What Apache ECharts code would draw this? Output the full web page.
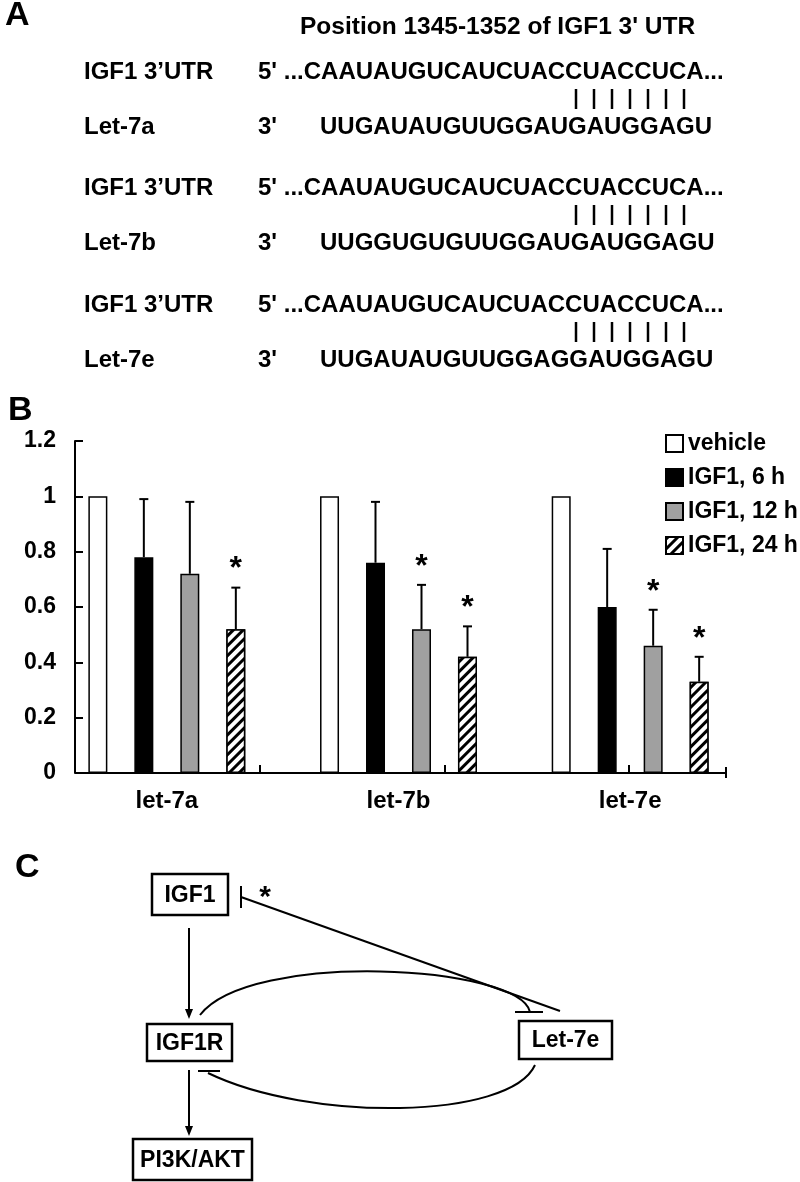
<!DOCTYPE html>
<html>
<head>
<meta charset="utf-8">
<script src="https://cdn.jsdelivr.net/npm/echarts@6/dist/echarts.min.js"></script>
<style>
  html, body { margin: 0; padding: 0; background: #fff; }
  #main { width: 800px; height: 1182px; }
</style>
</head>
<body>
<div id="main"></div>
<script>
// panel B data (relative expression)
var categories = ['let-7a', 'let-7b', 'let-7e'];
var seriesNames = ['vehicle', 'IGF1, 6 h', 'IGF1, 12 h', 'IGF1, 24 h'];
var vehicle = [1, 1, 1];
var igf6h = [0.78, 0.76, 0.60];
var igf12h = [0.72, 0.52, 0.46];
var igf24h = [0.52, 0.42, 0.33];
// upper error (SD)
var err6h = [0.21, 0.22, 0.21];
var err12h = [0.26, 0.16, 0.13];
var err24h = [0.15, 0.11, 0.09];
// significance stars
var sig6h = [0, 0, 0];
var sig12h = [0, 1, 1];
var sig24h = [1, 1, 1];
var yTicks = [0, 0.2, 0.4, 0.6, 0.8, 1, 1.2];

// panel A sequences
var utrLabel = 'IGF1 3\u2019UTR';
var utrSeq = "5' ...CAAUAUGUCAUCUACCUACCUCA...";
var mirNames = ['Let-7a', 'Let-7b', 'Let-7e'];
var mirSeqs = ['UUGAUAUGUUGGAUGAUGGAGU', 'UUGGUGUGUUGGAUGAUGGAGU', 'UUGAUAUGUUGGAGGAUGGAGU'];

var FONT = '"Liberation Sans", Arial, Helvetica, sans-serif';
var BAR_W = 19;
var BAR_GAP = 27;

var myChart = echarts.init(document.getElementById('main'), null, { renderer: 'canvas' });

function txt(x, y, s, size, align) {
  return {
    type: 'text', x: x, y: y, silent: true,
    style: {
      text: s, fontSize: size, fontWeight: 'bold', fontFamily: FONT,
      fill: '#000', align: align || 'left', verticalAlign: 'middle'
    }
  };
}
function seg(x1, y1, x2, y2, w) {
  return { type: 'line', silent: true, shape: { x1: x1, y1: y1, x2: x2, y2: y2 }, style: { stroke: '#000', lineWidth: w || 2 } };
}
function box(x, y, w, h, label) {
  return [
    { type: 'rect', silent: true, shape: { x: x, y: y, width: w, height: h }, style: { fill: '#fff', stroke: '#000', lineWidth: 2.5 } },
    txt(x + w / 2, y + h / 2 + 1, label, 23, 'center')
  ];
}
function arrowDown(x, y1, y2) {
  return [
    seg(x, y1, x, y2 - 8, 2),
    { type: 'polygon', silent: true, shape: { points: [[x - 4, y2 - 10], [x + 4, y2 - 10], [x, y2]] }, style: { fill: '#000' } }
  ];
}
function curve(x1, y1, c1x, c1y, c2x, c2y, x2, y2) {
  return {
    type: 'bezierCurve', silent: true,
    shape: { x1: x1, y1: y1, cpx1: c1x, cpy1: c1y, cpx2: c2x, cpy2: c2y, x2: x2, y2: y2 },
    style: { stroke: '#000', lineWidth: 2, fill: null }
  };
}

var elements = [];

// ---- panel A ----
elements.push(txt(5, 16, 'A', 34));
elements.push(txt(300, 27, "Position 1345-1352 of IGF1 3' UTR", 24.5));
var pipeX = [576, 594, 612, 630, 648, 666, 684];
var blockTop = [72, 188, 305];
for (var b = 0; b < 3; b++) {
  var yu = blockTop[b], yl = yu + 55;
  elements.push(txt(84, yu, utrLabel, 24));
  elements.push(txt(258, yu, utrSeq, 24));
  elements.push(txt(84, yl, mirNames[b], 24));
  elements.push(txt(258, yl, "3'", 24));
  elements.push(txt(320, yl, mirSeqs[b], 24));
  pipeX.forEach(function (px) {
    elements.push(seg(px, yu + 17, px, yl - 18, 2.5));
  });
}

// ---- panel B decorations ----
elements.push(txt(8, 411, 'B', 34));
elements.push(seg(75, 773, 726, 773, 2));
[260, 445, 629].forEach(function (tx) { elements.push(seg(tx, 773, tx, 765, 2)); });
elements.push(seg(726, 767, 726, 778, 2));

// ---- panel C ----
elements.push(txt(15, 868, 'C', 34));
elements = elements.concat(box(152, 874, 76, 41, 'IGF1'));
elements = elements.concat(box(147, 1024, 85, 37, 'IGF1R'));
elements = elements.concat(box(133, 1139, 119, 41, 'PI3K/AKT'));
elements = elements.concat(box(519, 1021, 93, 38, 'Let-7e'));
elements = elements.concat(arrowDown(189, 928, 1019));
elements = elements.concat(arrowDown(189, 1070, 1136));
elements.push(seg(241, 886, 241, 908, 2));
elements.push(seg(241, 897, 560, 1011, 2));
elements.push(txt(265, 898, '*', 30, 'center'));
elements.push(curve(200, 1015, 250, 950, 520, 965, 530, 1012));
elements.push(seg(515, 1012, 543, 1012, 2));
elements.push(curve(535, 1065, 510, 1120, 309, 1122, 208, 1073));
elements.push(seg(198, 1071, 220, 1071, 2));

// error bar data: [category, series index, mean, mean + error, significant]
var errData = [];
[[igf6h, err6h, sig6h], [igf12h, err12h, sig12h], [igf24h, err24h, sig24h]].forEach(function (g, k) {
  categories.forEach(function (c, i) {
    errData.push([i, k + 1, g[0][i], +(g[0][i] + g[1][i]).toFixed(2), g[2][i]]);
  });
});

function renderErr(params, api) {
  var cat = api.value(0), s = api.value(1);
  var base = api.coord([cat, api.value(2)]);
  var top = api.coord([cat, api.value(3)]);
  var x = base[0] + (s - 1.5) * (BAR_W + BAR_GAP);
  var children = [
    { type: 'line', shape: { x1: x, y1: base[1], x2: x, y2: top[1] }, style: { stroke: '#000', lineWidth: 2 } },
    { type: 'line', shape: { x1: x - 4.5, y1: top[1], x2: x + 4.5, y2: top[1] }, style: { stroke: '#000', lineWidth: 2 } }
  ];
  if (api.value(4)) {
    children.push({
      type: 'text', x: x, y: top[1] - 18,
      style: { text: '*', fontSize: 32, fontWeight: 'bold', fontFamily: FONT, fill: '#000', align: 'center', verticalAlign: 'middle' }
    });
  }
  return { type: 'group', children: children };
}

var barBase = {
  type: 'bar',
  barWidth: BAR_W,
  barGap: (BAR_GAP / BAR_W * 100).toFixed(0) + '%',
  silent: true
};

var option = {
  animation: false,
  backgroundColor: '#fff',
  textStyle: { fontFamily: FONT },
  grid: { left: 51, right: 54, top: 441, bottom: 409 },
  legend: {
    data: seriesNames,
    orient: 'vertical',
    left: 665,
    top: 432,
    itemWidth: 17,
    itemHeight: 17,
    itemGap: 11,
    icon: 'rect',
    padding: 0,
    selectedMode: false,
    textStyle: { fontSize: 23, fontWeight: 'bold', color: '#000', fontFamily: FONT }
  },
  xAxis: {
    type: 'category',
    data: categories,
    axisLine: { show: false },
    axisTick: { show: false },
    axisLabel: { color: '#000', fontSize: 24, fontWeight: 'bold', fontFamily: FONT, margin: 16 }
  },
  yAxis: {
    type: 'value',
    min: yTicks[0],
    max: yTicks[yTicks.length - 1],
    interval: 0.2,
    offset: -24,
    axisLine: { show: true, lineStyle: { color: '#000', width: 2 } },
    axisTick: { show: true, inside: true, length: 8, lineStyle: { color: '#000', width: 2 } },
    axisLabel: { color: '#000', fontSize: 23, fontWeight: 'bold', fontFamily: FONT, margin: 19 },
    splitLine: { show: false }
  },
  graphic: { elements: elements },
  series: [
    Object.assign({}, barBase, {
      name: seriesNames[0], data: vehicle,
      itemStyle: { color: '#fff', borderColor: '#000', borderWidth: 1.5 }
    }),
    Object.assign({}, barBase, {
      name: seriesNames[1], data: igf6h,
      itemStyle: { color: '#000', borderColor: '#000', borderWidth: 1.5 }
    }),
    Object.assign({}, barBase, {
      name: seriesNames[2], data: igf12h,
      itemStyle: { color: '#a0a0a0', borderColor: '#000', borderWidth: 1.5 }
    }),
    Object.assign({}, barBase, {
      name: seriesNames[3], data: igf24h,
      itemStyle: {
        color: '#fff', borderColor: '#000', borderWidth: 1.5,
        decal: {
          symbol: 'rect', symbolSize: 1, color: '#000', backgroundColor: '#fff',
          dashArrayX: [1, 0], dashArrayY: [2.5, 3.5], rotation: -Math.PI / 4
        }
      }
    }),
    {
      type: 'custom',
      name: 'error',
      silent: true,
      z: 5,
      renderItem: renderErr,
      encode: { x: 0, y: 3 },
      data: errData
    }
  ]
};

myChart.setOption(option);
window.addEventListener('resize', myChart.resize);
</script>
</body>
</html>
